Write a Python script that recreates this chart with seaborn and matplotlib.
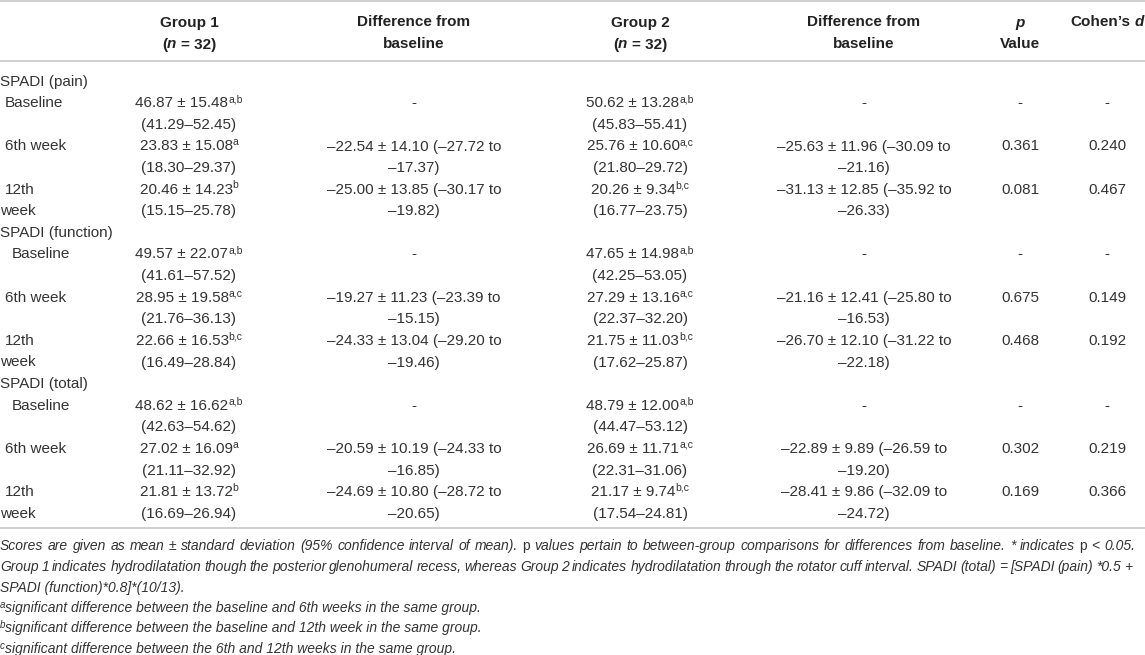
import matplotlib
matplotlib.use("Agg")
import matplotlib.pyplot as plt
import seaborn as sns

# ---------------- data ----------------
measures = ["SPADI (pain)", "SPADI (function)", "SPADI (total)"]
timepoints = ["Baseline", "6th week", "12th week"]

g1_mean = [[46.87, 23.83, 20.46], [49.57, 28.95, 22.66], [48.62, 27.02, 21.81]]
g1_sd = [[15.48, 15.08, 14.23], [22.07, 19.58, 16.53], [16.62, 16.09, 13.72]]
g1_ci_lo = [[41.29, 18.30, 15.15], [41.61, 21.76, 16.49], [42.63, 21.11, 16.69]]
g1_ci_hi = [[52.45, 29.37, 25.78], [57.52, 36.13, 28.84], [54.62, 32.92, 26.94]]
g1_sup = [["a,b", "a", "b"], ["a,b", "a,c", "b,c"], ["a,b", "a", "b"]]
g1_diff_mean = [[None, -22.54, -25.00], [None, -19.27, -24.33], [None, -20.59, -24.69]]
g1_diff_sd = [[None, 14.10, 13.85], [None, 11.23, 13.04], [None, 10.19, 10.80]]
g1_diff_lo = [[None, -27.72, -30.17], [None, -23.39, -29.20], [None, -24.33, -28.72]]
g1_diff_hi = [[None, -17.37, -19.82], [None, -15.15, -19.46], [None, -16.85, -20.65]]

g2_mean = [[50.62, 25.76, 20.26], [47.65, 27.29, 21.75], [48.79, 26.69, 21.17]]
g2_sd = [[13.28, 10.60, 9.34], [14.98, 13.16, 11.03], [12.00, 11.71, 9.74]]
g2_ci_lo = [[45.83, 21.80, 16.77], [42.25, 22.37, 17.62], [44.47, 22.31, 17.54]]
g2_ci_hi = [[55.41, 29.72, 23.75], [53.05, 32.20, 25.87], [53.12, 31.06, 24.81]]
g2_sup = [["a,b", "a,c", "b,c"], ["a,b", "a,c", "b,c"], ["a,b", "a,c", "b,c"]]
g2_diff_mean = [[None, -25.63, -31.13], [None, -21.16, -26.70], [None, -22.89, -28.41]]
g2_diff_sd = [[None, 11.96, 12.85], [None, 12.41, 12.10], [None, 9.89, 9.86]]
g2_diff_lo = [[None, -30.09, -35.92], [None, -25.80, -31.22], [None, -26.59, -32.09]]
g2_diff_hi = [[None, -21.16, -26.33], [None, -16.53, -22.18], [None, -19.20, -24.72]]

p_values = [[None, 0.361, 0.081], [None, 0.675, 0.468], [None, 0.302, 0.169]]
cohens_d = [[None, 0.240, 0.467], [None, 0.149, 0.192], [None, 0.219, 0.366]]

footnote_main = [
    [("Scores are given as mean \u00b1 standard deviation (95% confidence interval of mean). ", "it"),
     ("p", "up"),
     (" values pertain to between-group comparisons for differences from baseline. * indicates ", "it"),
     ("p", "up"), (" < 0.05.", "it")],
    [("Group 1 indicates hydrodilatation though the posterior glenohumeral recess, whereas Group 2 "
      "indicates hydrodilatation through the rotator cuff interval. SPADI (total) = [SPADI (pain) *0.5 +", "it")],
    [("SPADI (function)*0.8]*(10/13).", "it")],
]
footnote_sig = [("a", "significant difference between the baseline and 6th weeks in the same group."),
                ("b", "significant difference between the baseline and 12th week in the same group."),
                ("c", "significant difference between the 6th and 12th weeks in the same group.")]

# ---------------- figure ----------------
sns.set_theme(style="white")
plt.rcParams["font.family"] = ["Liberation Sans", "DejaVu Sans"]

W, H = 1145, 655
fig = plt.figure(figsize=(W / 100, H / 100), dpi=100)
fig.patch.set_facecolor("white")
ax = fig.add_axes([0, 0, 1, 1])
ax.set_xlim(0, W)
ax.set_ylim(H, 0)
ax.axis("off")
fig.canvas.draw()
renderer = fig.canvas.get_renderer()

TXT = "#333333"
HDR = "#222222"
BODY = dict(fontsize=11, color=TXT)
SUP = dict(fontsize=7.5, color=TXT)
HB = dict(fontsize=11, fontweight="bold", color=HDR)
HBI = dict(fontsize=11, fontweight="bold", fontstyle="italic", color=HDR)
FN = dict(fontsize=10, fontstyle="italic", color=TXT)
FNU = dict(fontsize=10, color=TXT)
FNS = dict(fontsize=7, fontstyle="italic", color=TXT)
FNSTY = {"it": FN, "up": FNU}

_cache = {}


def measure(text, st):
    key = (text, tuple(sorted(st.items())))
    if key not in _cache:
        t = ax.text(0, 0, text, **st)
        _cache[key] = t.get_window_extent(renderer).width
        t.remove()
    return _cache[key]


def run_w(text, st):
    if not text:
        return 0.0
    return measure("|" + text + "|", st) - measure("||", st)


def draw_runs(x, yb, runs, ha="left"):
    total = sum(run_w(t, st) for t, st, dy in runs)
    x0 = x - total / 2 if ha == "center" else (x - total if ha == "right" else x)
    off = 0.0
    for t, st, dy in runs:
        lead = len(t) - len(t.lstrip(" "))
        if t.strip():
            ax.text(x0 + off + run_w(" " * lead, st), yb + dy, t.strip(),
                    ha="left", va="baseline", **st)
        off += run_w(t, st)


def draw_justified(x, yb, runs, target):
    words = [[]]
    for text, st in runs:
        parts = text.split(" ")
        for i, p in enumerate(parts):
            if i > 0:
                words.append([])
            if p:
                words[-1].append((p, st))
    words = [w for w in words if w]
    widths = [sum(run_w(p, st) for p, st in w) for w in words]
    gap = (target - sum(widths)) / (len(words) - 1)
    cx = x
    for w, ww in zip(words, widths):
        off = 0.0
        for p, st in w:
            ax.text(cx + off, yb, p, ha="left", va="baseline", **st)
            off += run_w(p, st)
        cx += ww + gap


def neg(v):
    return ("\u2013" if v < 0 else "") + f"{abs(v):.2f}"


# ---------------- layout ----------------
col_g1, col_d1, col_g2, col_d2, col_p, col_d = 189, 414, 640, 864, 1020, 1107
ROW0, ROWH = 80.2, 21.6
BASE = 5.5  # center -> baseline

# rules
for yy in (1, 61, 528):
    ax.axhline(yy, color="#cccccc", lw=1.3)

# header
h1, h2 = 21 + BASE, 43 + BASE
for cx, grp in ((col_g1, "Group 1"), (col_g2, "Group 2")):
    draw_runs(cx, h1, [(grp, HB, 0)], "center")
    draw_runs(cx, h2, [("(", HB, 0), ("n", HBI, 0), (" = 32)", HB, 0)], "center")
for cx in (col_d1, col_d2):
    draw_runs(cx, h1, [("Difference from", HB, 0)], "center")
    draw_runs(cx, h2, [("baseline", HB, 0)], "center")
draw_runs(col_p, h1, [("p", HBI, 0)], "center")
draw_runs(col_p, h2, [("Value", HB, 0)], "center")
draw_runs(col_d, h1, [("Cohen\u2019s ", HB, 0), ("d", HBI, 0)], "center")


def rowy(i):
    return ROW0 + ROWH * i + BASE


for b, meas in enumerate(measures):
    r0 = 7 * b
    draw_runs(0, rowy(r0), [(meas, BODY, 0)])
    for t, tp in enumerate(timepoints):
        r = r0 + 1 + 2 * t
        # row labels
        if t == 0:
            draw_runs(5 if b == 0 else 12, rowy(r), [(tp, BODY, 0)])
        elif t == 1:
            draw_runs(5, rowy(r), [(tp, BODY, 0)])
        else:
            first, second = tp.split(" ")
            draw_runs(5, rowy(r), [(first, BODY, 0)])
            draw_runs(0, rowy(r + 1), [(second, BODY, 0)])
        # group values
        for cx, m, s, lo, hi, sup in ((col_g1, g1_mean, g1_sd, g1_ci_lo, g1_ci_hi, g1_sup),
                                      (col_g2, g2_mean, g2_sd, g2_ci_lo, g2_ci_hi, g2_sup)):
            draw_runs(cx, rowy(r), [(f"{m[b][t]:.2f} \u00b1 {s[b][t]:.2f}", BODY, 0),
                                    (sup[b][t], SUP, -5.2)], "center")
            draw_runs(cx, rowy(r + 1), [(f"({lo[b][t]:.2f}\u2013{hi[b][t]:.2f})", BODY, 0)], "center")
        # differences
        for cx, dm, ds, dlo, dhi in ((col_d1, g1_diff_mean, g1_diff_sd, g1_diff_lo, g1_diff_hi),
                                     (col_d2, g2_diff_mean, g2_diff_sd, g2_diff_lo, g2_diff_hi)):
            if dm[b][t] is None:
                draw_runs(cx, rowy(r), [("-", BODY, 0)], "center")
            else:
                draw_runs(cx, rowy(r), [(f"{neg(dm[b][t])} \u00b1 {ds[b][t]:.2f} ({neg(dlo[b][t])} to",
                                         BODY, 0)], "center")
                draw_runs(cx, rowy(r + 1), [(f"{neg(dhi[b][t])})", BODY, 0)], "center")
        # p and d
        for cx, arr in ((col_p, p_values), (col_d, cohens_d)):
            v = arr[b][t]
            draw_runs(cx, rowy(r), [("-" if v is None else f"{v:.3f}", BODY, 0)], "center")

# footnotes
fn_y = [545, 566, 587, 607, 627, 648]
FB = 5.0
draw_justified(0, fn_y[0] + FB, [(t, FNSTY[s]) for t, s in footnote_main[0]], 1135)
draw_justified(0, fn_y[1] + FB, [(t, FNSTY[s]) for t, s in footnote_main[1]], 1132)
draw_runs(0, fn_y[2] + FB, [(t, FNSTY[s], 0) for t, s in footnote_main[2]])
for k, (letter, txt) in enumerate(footnote_sig):
    draw_runs(0, fn_y[3 + k] + FB, [(letter, FNS, -4.0), (txt, FN, 0)])

fig.savefig("out.png", dpi=100, facecolor="white")
